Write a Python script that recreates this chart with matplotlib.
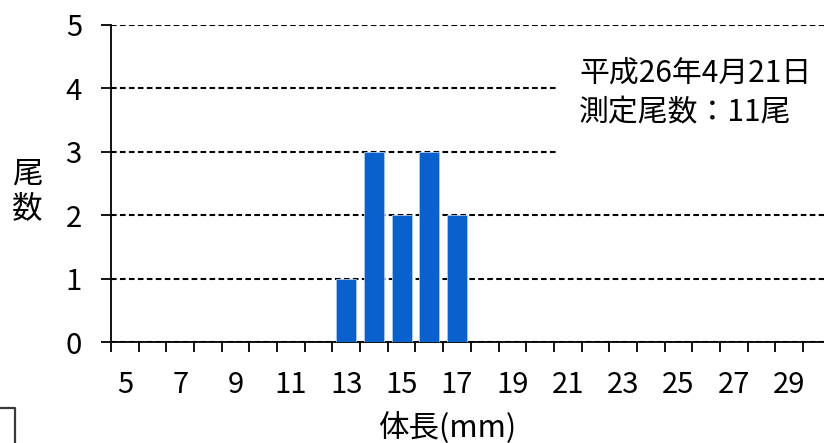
import matplotlib
matplotlib.use("Agg")
import matplotlib.pyplot as plt
from matplotlib.patches import Rectangle
from matplotlib.lines import Line2D

plt.rcParams['font.family'] = ['Noto Sans CJK JP', 'DejaVu Sans']

# Body length classes (mm) and number of fish in each class
lengths = list(range(5, 31))
counts = [0, 0, 0, 0, 0, 0, 0, 0, 1, 3, 2, 3, 2,
          0, 0, 0, 0, 0, 0, 0, 0, 0, 0, 0, 0, 0]
tick_labels = [str(v) for v in range(5, 30, 2)]
y_ticks = [0, 1, 2, 3, 4, 5]

x_label = "体長(mm)"
y_label = "尾\n数"
note = "平成26年4月21日\n測定尾数：11尾"

W, H = 824, 443
fig = plt.figure(figsize=(W / 100, H / 100), dpi=100)

# axes: left edge 111px, bottom 342px, top 25px, right edge runs off the canvas
left_px, right_px, top_px, bottom_px = 111, 830.7, 25, 342
ax = fig.add_axes([left_px / W, (H - bottom_px) / H,
                   (right_px - left_px) / W, (bottom_px - top_px) / H])

ax.bar(lengths, counts, width=0.72, color="#0961CD",
       edgecolor="#A9C9F0", linewidth=0.6, zorder=3)

ax.set_xlim(lengths[0] - 0.5, lengths[-1] + 0.5)
ax.set_ylim(0, 5)

# boundary ticks between classes, labels on odd classes
ax.set_xticks([v - 0.5 for v in lengths] + [lengths[-1] + 0.5])
ax.set_xticklabels([])
ax.set_xticks(list(range(5, 30, 2)), labels=tick_labels, minor=True)
ax.tick_params(axis="x", which="major", length=7, width=1.3, direction="out", color="black")
ax.tick_params(axis="x", which="minor", length=0, pad=20, labelsize=21)

ax.set_yticks(y_ticks)
ax.tick_params(axis="y", length=7, width=1.3, direction="out", pad=14, labelsize=21)

for s in ["top", "right"]:
    ax.spines[s].set_visible(False)
for s in ["left", "bottom"]:
    ax.spines[s].set_linewidth(1.3)
    ax.spines[s].set_color("black")

ax.set_axisbelow(True)
ax.yaxis.grid(True, color="black", linewidth=1.5, linestyle=(0, (2.7, 1.6)))

# white panel behind the date / sample-size note
ax.add_patch(Rectangle((557 / W, (H - 200) / H), (W - 557) / W, 165 / H,
                       transform=fig.transFigure, facecolor="white",
                       edgecolor="none", zorder=1))

fig.text(579 / W, 1 - 93 / H, note, fontsize=21.5, ha="left", va="center",
         linespacing=1.4)

fig.text(27 / W, 1 - 191 / H, y_label, fontsize=22, ha="center", va="center",
         linespacing=1.15)
fig.text(447 / W, 1 - 428 / H, x_label, fontsize=22, ha="center", va="center")

# corner of the neighbouring frame at the lower left
fig.add_artist(Line2D([0, 15 / W, 15 / W], [1 - 408 / H, 1 - 408 / H, 0],
                      transform=fig.transFigure, color="#3a3a3a", linewidth=1.6))

fig.savefig("out.png", dpi=100)
